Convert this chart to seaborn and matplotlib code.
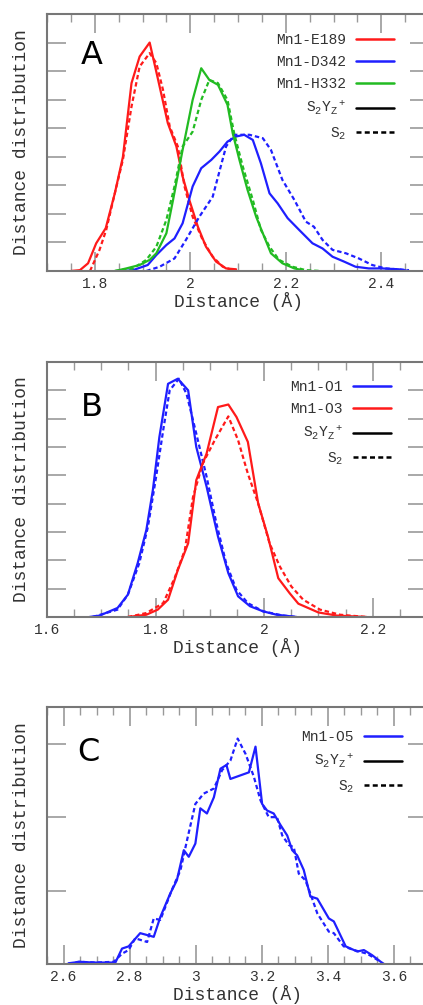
import numpy as np
import pandas as pd
import matplotlib
matplotlib.use('Agg')
import matplotlib.pyplot as plt
import seaborn as sns
from matplotlib.lines import Line2D
from matplotlib.ticker import MultipleLocator

# ---- Panel A data (distance in Å, distribution in arbitrary units) ----
a_e189_s2yz_x = [1.75, 1.769, 1.786, 1.803, 1.823, 1.842, 1.859, 1.877, 1.894, 1.915, 1.932, 1.953, 1.971,
                 1.984, 1.998, 2.016, 2.033, 2.054, 2.075, 2.096]
a_e189_s2yz_y = [0.0, 0.03, 0.27, 0.97, 1.5, 2.72, 4.0, 6.58, 7.51, 8.0, 6.75, 5.18, 4.36,
                 3.31, 2.49, 1.55, 0.85, 0.33, 0.09, 0.06]
a_e189_s2_x = [1.79, 1.81, 1.824, 1.842, 1.859, 1.877, 1.894, 1.915, 1.929, 1.943, 1.957, 1.974, 1.988,
               2.005, 2.026, 2.047, 2.068, 2.089]
a_e189_s2_y = [0.0, 0.74, 1.44, 2.72, 3.9, 5.76, 7.16, 7.63, 7.28, 6.34, 5.06, 4.36, 2.96,
               1.9, 1.09, 0.5, 0.15, 0.03]

a_h332_s2yz_x = [1.842, 1.866, 1.894, 1.915, 1.929, 1.95, 1.964, 1.984, 2.005, 2.023, 2.04, 2.058, 2.078,
                 2.089, 2.103, 2.12, 2.138, 2.152, 2.169, 2.193, 2.218, 2.235]
a_h332_s2yz_y = [0.0, 0.09, 0.21, 0.39, 0.62, 1.32, 2.49, 4.24, 5.99, 7.1, 6.69, 6.52, 5.82,
                 4.82, 3.89, 2.84, 1.9, 1.32, 0.62, 0.27, 0.09, 0.03]
a_h332_s2_x = [1.842, 1.88, 1.908, 1.929, 1.95, 1.967, 1.984, 2.005, 2.023, 2.04, 2.058, 2.078, 2.092,
               2.11, 2.131, 2.148, 2.166, 2.186, 2.214, 2.242, 2.273]
a_h332_s2_y = [0.0, 0.09, 0.39, 0.85, 1.79, 2.96, 4.36, 4.88, 5.99, 6.69, 6.58, 5.99, 4.82,
               3.66, 2.49, 1.44, 0.85, 0.39, 0.15, 0.03, 0.0]

a_d342_s2yz_x = [1.859, 1.88, 1.911, 1.929, 1.95, 1.967, 1.984, 2.005, 2.023, 2.044, 2.061, 2.078, 2.096,
                 2.113, 2.131, 2.148, 2.166, 2.183, 2.204, 2.228, 2.256, 2.277, 2.298, 2.322, 2.346,
                 2.374, 2.402, 2.437, 2.458]
a_d342_s2yz_y = [0.0, 0.03, 0.21, 0.56, 0.91, 1.14, 1.67, 2.96, 3.6, 3.89, 4.18, 4.53, 4.71,
                 4.77, 4.59, 3.77, 2.72, 2.37, 1.85, 1.44, 0.97, 0.79, 0.5, 0.33, 0.15,
                 0.09, 0.09, 0.06, 0.0]
a_d342_s2_x = [1.908, 1.936, 1.967, 1.991, 2.019, 2.047, 2.075, 2.092, 2.124, 2.152, 2.169, 2.193, 2.218,
               2.242, 2.259, 2.277, 2.298, 2.326, 2.353, 2.381, 2.409, 2.458]
a_d342_s2_y = [0.0, 0.15, 0.44, 1.09, 1.9, 2.6, 4.36, 4.77, 4.77, 4.65, 4.24, 3.19, 2.49,
               1.73, 1.55, 1.09, 0.74, 0.62, 0.44, 0.21, 0.09, 0.03]

# ---- Panel B data ----
b_o1_s2yz_x = [1.678, 1.697, 1.73, 1.749, 1.767, 1.783, 1.795, 1.807, 1.823, 1.841, 1.86, 1.875, 1.894,
               1.915, 1.934, 1.952, 1.974, 1.998, 2.023, 2.06]
b_o1_s2yz_y = [0.0, 0.05, 0.32, 0.79, 1.9, 3.07, 4.48, 6.35, 8.23, 8.41, 8.0, 6.0, 4.6,
               2.84, 1.55, 0.73, 0.38, 0.2, 0.08, 0.0]
b_o1_s2_x = [1.684, 1.73, 1.749, 1.77, 1.786, 1.801, 1.814, 1.826, 1.843, 1.857, 1.875, 1.894, 1.912,
             1.93, 1.949, 1.97, 1.998, 2.035, 2.06]
b_o1_s2_y = [0.0, 0.26, 0.79, 1.9, 3.19, 4.95, 6.59, 8.0, 8.41, 7.88, 6.47, 4.95, 3.31,
             1.9, 0.96, 0.49, 0.2, 0.05, 0.0]

b_o3_s2yz_x = [1.749, 1.783, 1.804, 1.823, 1.841, 1.86, 1.875, 1.894, 1.915, 1.934, 1.949, 1.97, 1.989,
               2.007, 2.026, 2.047, 2.063, 2.1, 2.134, 2.189]
b_o3_s2yz_y = [0.0, 0.08, 0.26, 0.61, 1.66, 2.6, 4.83, 5.77, 7.41, 7.5, 7.06, 6.18, 4.01,
               2.84, 1.37, 0.84, 0.47, 0.16, 0.05, 0.0]
b_o3_s2_x = [1.749, 1.783, 1.814, 1.835, 1.854, 1.869, 1.887, 1.909, 1.934, 1.952, 1.97, 1.989, 2.01,
             2.029, 2.05, 2.072, 2.103, 2.14, 2.189]
b_o3_s2_y = [0.0, 0.14, 0.49, 1.37, 2.37, 4.24, 5.42, 6.24, 7.08, 6.24, 5.06, 4.01, 2.6,
             1.78, 1.08, 0.61, 0.26, 0.08, 0.0]

# ---- Panel C data ----
c_o5_s2yz_x = [2.615, 2.65, 2.69, 2.757, 2.777, 2.797, 2.832, 2.873, 2.893, 2.923, 2.943, 2.964, 2.979,
               2.999, 3.014, 3.034, 3.055, 3.075, 3.093, 3.105, 3.161, 3.181, 3.201, 3.216, 3.236,
               3.257, 3.277, 3.292, 3.307, 3.327, 3.347, 3.368, 3.403, 3.418, 3.454, 3.489, 3.509,
               3.534, 3.56, 3.57]
c_o5_s2yz_y = [0.01, 0.03, 0.02, 0.02, 0.21, 0.24, 0.42, 0.37, 0.64, 0.96, 1.14, 1.55, 1.46,
               1.64, 2.12, 2.05, 2.27, 2.66, 2.71, 2.52, 2.61, 2.96, 2.18, 2.09, 2.05,
               1.89, 1.75, 1.55, 1.48, 1.28, 0.92, 0.89, 0.62, 0.58, 0.24, 0.17, 0.19,
               0.12, 0.03, 0.0]
c_o5_s2_x = [2.615, 2.645, 2.7, 2.752, 2.777, 2.797, 2.817, 2.853, 2.873, 2.893, 2.928, 2.954, 2.974,
             2.999, 3.024, 3.055, 3.08, 3.105, 3.127, 3.151, 3.176, 3.196, 3.221, 3.246, 3.262,
             3.282, 3.297, 3.312, 3.332, 3.347, 3.368, 3.403, 3.418, 3.448, 3.479, 3.519, 3.56]
c_o5_s2_y = [0.0, 0.03, 0.02, 0.03, 0.14, 0.19, 0.35, 0.3, 0.62, 0.6, 1.01, 1.28, 1.69,
             2.18, 2.32, 2.39, 2.64, 2.77, 3.07, 2.86, 2.55, 2.23, 2.0, 2.0, 1.75,
             1.62, 1.59, 1.23, 1.14, 0.96, 0.69, 0.44, 0.42, 0.24, 0.19, 0.14, 0.03]

RED = '#ff1a1a'
BLUE = '#1f1fff'
GREEN = '#22bb22'
S2YZ = r'S$_2$Y$_Z$$^+$'
S2 = r'S$_2$'

sns.set_style('ticks')
plt.rcParams['font.family'] = ['Liberation Mono', 'DejaVu Sans Mono']
plt.rcParams['mathtext.fontset'] = 'custom'
plt.rcParams['mathtext.rm'] = 'Liberation Mono'
plt.rcParams['mathtext.it'] = 'Liberation Mono'

W, H = 423, 1005
fig = plt.figure(figsize=(W / 100, H / 100), dpi=100)
fig.patch.set_facecolor('white')


def to_long(series):
    frames = []
    for pair, state, xs, ys in series:
        frames.append(pd.DataFrame({'distance': xs, 'dist': ys, 'pair': pair, 'state': state}))
    return pd.concat(frames, ignore_index=True)


def make_panel(box, series, palette, xlim, ylim, xmajor, ymajor, letter, letter_xy, legend_anchor):
    left, top, right, bottom = box
    ax = fig.add_axes([left / W, 1 - bottom / H, (right - left) / W, (bottom - top) / H])
    df = to_long(series)
    sns.lineplot(data=df, x='distance', y='dist', hue='pair', style='state',
                 palette=palette, dashes={S2YZ: '', S2: (2, 1.3)},
                 estimator=None, sort=False, units='pair', linewidth=1.6,
                 legend=False, ax=ax)
    ax.set_xlim(*xlim)
    ax.set_ylim(*ylim)
    ax.xaxis.set_major_locator(MultipleLocator(xmajor))
    ax.xaxis.set_minor_locator(MultipleLocator(0.05))
    ax.yaxis.set_major_locator(MultipleLocator(ymajor))
    ax.xaxis.set_major_formatter(plt.FuncFormatter(lambda v, p: f'{v:g}'))
    ax.set_yticklabels([])
    ax.tick_params(which='major', direction='in', length=14, width=1.2, color='#999999',
                   top=True, right=True, labelsize=10.5, labelcolor='#333333', pad=4)
    ax.tick_params(which='minor', direction='in', length=6, width=1.0, color='#999999', top=True)
    ax.tick_params(axis='y', which='minor', left=False, right=False)
    for s in ax.spines.values():
        s.set_visible(True)
        s.set_color('#777777')
        s.set_linewidth(1.5)
    ax.set_xlabel('Distance (Å)', fontsize=13, color='#333333', labelpad=1)
    ax.set_ylabel('Distance distribution', fontsize=13, color='#333333', labelpad=8)
    fig.text(letter_xy[0] / W, 1 - letter_xy[1] / H, letter, fontsize=23,
             family='DejaVu Sans', ha='left', va='center', color='black')

    handles = [Line2D([], [], color=c, lw=1.8) for c in palette.values()]
    labels = list(palette.keys())
    handles += [Line2D([], [], color='black', lw=1.8),
                Line2D([], [], color='black', lw=1.8, dashes=(2, 1.3))]
    labels += [S2YZ, S2]
    ax.legend(handles, labels, loc='upper right', markerfirst=False, frameon=False,
              bbox_to_anchor=(legend_anchor[0] / W, 1 - legend_anchor[1] / H),
              bbox_transform=fig.transFigure, borderpad=0, borderaxespad=0,
              handlelength=2.6, handletextpad=0.7, labelspacing=0.55,
              prop={'size': 10.5})
    for t in ax.get_legend().get_texts():
        t.set_color('#333333')
    return ax


make_panel((47, 14, 429, 271),
           [('Mn1-E189', S2YZ, a_e189_s2yz_x, a_e189_s2yz_y),
            ('Mn1-E189', S2, a_e189_s2_x, a_e189_s2_y),
            ('Mn1-D342', S2YZ, a_d342_s2yz_x, a_d342_s2yz_y),
            ('Mn1-D342', S2, a_d342_s2_x, a_d342_s2_y),
            ('Mn1-H332', S2YZ, a_h332_s2yz_x, a_h332_s2yz_y),
            ('Mn1-H332', S2, a_h332_s2_x, a_h332_s2_y)],
           {'Mn1-E189': RED, 'Mn1-D342': BLUE, 'Mn1-H332': GREEN},
           (1.7, 2.5), (0, 9), 0.2, 1, 'A', (81, 55), (394, 33))

make_panel((47, 362, 427, 617),
           [('Mn1-O1', S2YZ, b_o1_s2yz_x, b_o1_s2yz_y),
            ('Mn1-O1', S2, b_o1_s2_x, b_o1_s2_y),
            ('Mn1-O3', S2YZ, b_o3_s2yz_x, b_o3_s2yz_y),
            ('Mn1-O3', S2, b_o3_s2_x, b_o3_s2_y)],
           {'Mn1-O1': BLUE, 'Mn1-O3': RED},
           (1.6, 2.3), (0, 9), 0.2, 1, 'B', (81, 408), (391, 380))

make_panel((47, 707, 427, 964),
           [('Mn1-O5', S2YZ, c_o5_s2yz_x, c_o5_s2yz_y),
            ('Mn1-O5', S2, c_o5_s2_x, c_o5_s2_y)],
           {'Mn1-O5': BLUE},
           (2.55, 3.7), (0, 3.5), 0.2, 1, 'C', (77, 752), (402, 730))

fig.savefig('out.png', dpi=100, facecolor='white')
